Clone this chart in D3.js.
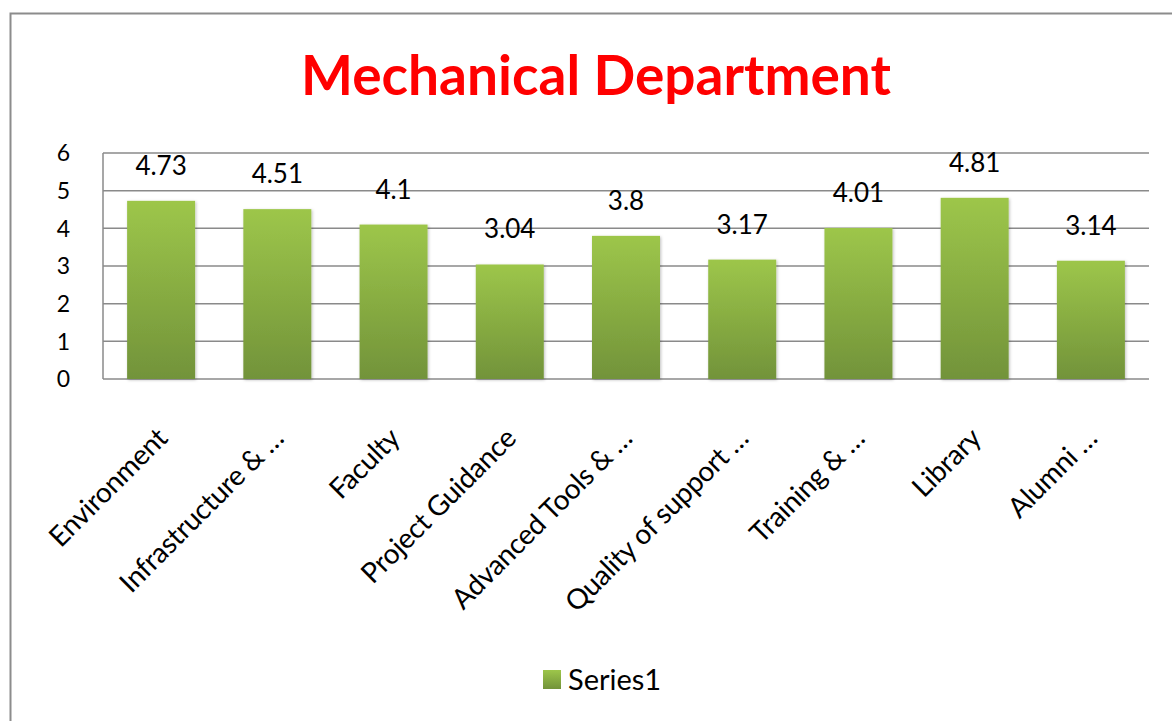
<!DOCTYPE html>
<html>
<head>
<meta charset="utf-8">
<script src="https://cdn.jsdelivr.net/npm/d3@7"></script>
<style>
  body { margin: 0; background: #fff; }
  text { font-family: Lato, "Open Sans", sans-serif; }
</style>
</head>
<body>
<svg id="chart" width="1172" height="721"></svg>
<script>
// data
var categories = ["Environment", "Infrastructure & \u2026", "Faculty", "Project Guidance",
  "Advanced Tools & \u2026", "Quality of support \u2026", "Training & \u2026", "Library", "Alumni \u2026"];
var values = [4.73, 4.51, 4.1, 3.04, 3.8, 3.17, 4.01, 4.81, 3.14];
var valueLabels = ["4.73", "4.51", "4.1", "3.04", "3.8", "3.17", "4.01", "4.81", "3.14"];
var yTicks = [0, 1, 2, 3, 4, 5, 6];
var seriesName = "Series1";

var svg = d3.select("#chart");

// outer chart frame (runs off the right / bottom edge)
svg.append("rect")
  .attr("x", 10.5).attr("y", 13.5)
  .attr("width", 1200).attr("height", 800)
  .attr("fill", "#fff")
  .attr("stroke", "#8c8c8c")
  .attr("stroke-width", 2);

svg.append("text")
  .attr("x", 596).attr("y", 95)
  .attr("text-anchor", "middle")
  .attr("fill", "#ff0000")
  .attr("font-weight", "bold")
  .attr("font-size", 55)
  .text("Mechanical Department");

var plot = {left: 103, right: 1149, top: 153, bottom: 379};

var x = d3.scaleBand()
  .domain(categories)
  .range([plot.left, plot.right])
  .paddingInner(0.415)
  .paddingOuter(0.2075);

var y = d3.scaleLinear()
  .domain([0, 6])
  .range([plot.bottom, plot.top]);

var defs = svg.append("defs");
var grad = defs.append("linearGradient")
  .attr("id", "barGrad")
  .attr("x1", 0).attr("y1", 0).attr("x2", 0).attr("y2", 1);
grad.append("stop").attr("offset", "0%").attr("stop-color", "#9dc64a");
grad.append("stop").attr("offset", "100%").attr("stop-color", "#72933a");

var shadow = defs.append("filter").attr("id", "shadow")
  .attr("x", "-20%").attr("y", "-20%").attr("width", "140%").attr("height", "140%");
shadow.append("feDropShadow")
  .attr("dx", 1).attr("dy", 1).attr("stdDeviation", 1.5)
  .attr("flood-color", "#000").attr("flood-opacity", 0.25);

// gridlines
svg.append("g")
  .selectAll("line")
  .data(yTicks)
  .join("line")
  .attr("x1", plot.left).attr("x2", plot.right)
  .attr("y1", function(d){ return y(d); })
  .attr("y2", function(d){ return y(d); })
  .attr("stroke", "#8a8a8a")
  .attr("stroke-width", 1.5);

// left axis line
svg.append("line")
  .attr("x1", plot.left).attr("x2", plot.left)
  .attr("y1", plot.top).attr("y2", plot.bottom)
  .attr("stroke", "#8a8a8a")
  .attr("stroke-width", 1.5);

// y tick labels
svg.append("g")
  .selectAll("text")
  .data(yTicks)
  .join("text")
  .attr("x", 70)
  .attr("y", function(d){ return y(d); })
  .attr("dy", "0.36em")
  .attr("text-anchor", "end")
  .attr("font-size", 23)
  .attr("fill", "#000")
  .text(function(d){ return d; });

// bars
svg.append("g")
  .selectAll("rect")
  .data(values)
  .join("rect")
  .attr("x", function(d, i){ return x(categories[i]); })
  .attr("y", function(d){ return y(d); })
  .attr("width", x.bandwidth())
  .attr("height", function(d){ return plot.bottom - y(d); })
  .attr("fill", "url(#barGrad)")
  .attr("filter", "url(#shadow)");

// value labels
svg.append("g")
  .selectAll("text")
  .data(values)
  .join("text")
  .attr("x", function(d, i){ return x(categories[i]) + x.bandwidth() / 2; })
  .attr("y", function(d){ return y(d) - 26; })
  .attr("text-anchor", "middle")
  .attr("font-size", 26)
  .attr("fill", "#000")
  .text(function(d, i){ return valueLabels[i]; });

// category labels, rotated
svg.append("g")
  .selectAll("text")
  .data(categories)
  .join("text")
  .attr("transform", function(d){
    return "translate(" + (x(d) + x.bandwidth() / 2 + 8) + "," + 440 + ") rotate(-45)";
  })
  .attr("text-anchor", "end")
  .attr("font-size", 28)
  .attr("letter-spacing", -0.3)
  .attr("fill", "#000")
  .text(function(d){ return d; });

// legend
var legend = svg.append("g").attr("transform", "translate(543,670)");
legend.append("rect")
  .attr("width", 18).attr("height", 19)
  .attr("fill", "url(#barGrad)");
legend.append("text")
  .attr("x", 25).attr("y", 9.5)
  .attr("dy", "0.36em")
  .attr("font-size", 29)
  .attr("fill", "#000")
  .text(seriesName);
</script>
</body>
</html>
